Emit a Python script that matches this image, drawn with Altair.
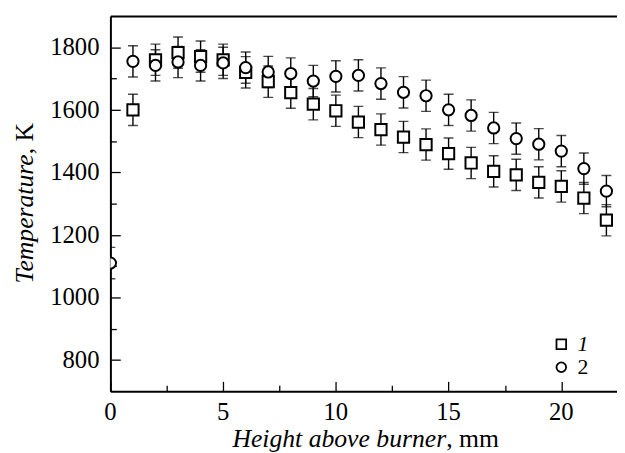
import altair as alt
import pandas as pd

# ---- data ----
height_1 = [1, 2, 3, 4, 5, 6, 7, 8, 9, 10, 11, 12, 13, 14, 15, 16, 17, 18, 19, 20, 21, 22]
temp_1 = [1600, 1760, 1783, 1770, 1760, 1720, 1690, 1655, 1618, 1597, 1561, 1537,
          1513, 1489, 1460, 1430, 1403, 1392, 1368, 1355, 1318, 1247]
err_1 = [50, 50, 50, 50, 50, 50, 50, 50, 50, 50, 50, 50, 50, 50, 50, 50, 50, 50, 50, 50, 50, 50]

height_2 = [0, 1, 2, 3, 4, 5, 6, 7, 8, 9, 10, 11, 12, 13, 14, 15, 16, 17, 18, 19, 20, 21, 22]
temp_2 = [1110, 1755, 1742, 1753, 1742, 1750, 1735, 1721, 1716, 1692, 1707, 1710,
          1684, 1656, 1645, 1600, 1582, 1542, 1508, 1490, 1468, 1412, 1340]
err_2 = [50, 50, 50, 50, 50, 50, 50, 50, 50, 50, 50, 50, 50, 50, 50, 50, 50, 50, 50, 50, 50, 50, 50]

series_labels = ["1", "2"]
series_shapes = ["square", "circle"]
series_styles = ["italic", "normal"]
x_major = [0, 5, 10, 15, 20]
x_minor = [2.5, 7.5, 12.5, 17.5]
y_major = [800, 1000, 1200, 1400, 1600, 1800]
y_minor = [900, 1100, 1300, 1500, 1700]
x_title_parts = ["Height above burner", ", mm"]
y_title_parts = ["Temperature", ", K"]

rows = []
for h, t, e in zip(height_1, temp_1, err_1):
    rows.append({"x": h, "t": t, "lo": t - e, "hi": t + e, "series": series_labels[0]})
for h, t, e in zip(height_2, temp_2, err_2):
    rows.append({"x": h, "t": t, "lo": t - e, "hi": t + e, "series": series_labels[1]})
df = pd.DataFrame(rows)

FONT = "Liberation Serif"
W, H = 513, 380

xs = alt.Scale(domain=[0, 22.47], nice=False, zero=False)
ys = alt.Scale(domain=[700, 1900], nice=False, zero=False)
shape_scale = alt.Scale(domain=series_labels, range=series_shapes)

common = dict(grid=False, title=None, domainColor="black", tickColor="black", labels=False)

x_main = alt.Axis(orient="bottom", ticks=False, domainWidth=2, **common)
y_main = alt.Axis(orient="left", ticks=False, domainWidth=2, **common)
x_major_ticks = alt.Axis(orient="bottom", values=x_major, offset=-10, tickSize=10, tickWidth=1.3,
                         domain=False, **common)
y_major_ticks = alt.Axis(orient="left", values=y_major, offset=-10, tickSize=10, tickWidth=1.3,
                         domain=False, **common)
x_minor_ticks = alt.Axis(orient="bottom", values=x_minor, offset=-6, tickSize=6, tickWidth=1.3,
                         domain=False, **common)
y_minor_ticks = alt.Axis(orient="left", values=y_minor, offset=-6, tickSize=6, tickWidth=1.3,
                         domain=False, **common)
x_top = alt.Axis(orient="top", ticks=False, domain=True, domainWidth=2, **common)

rules = alt.Chart(df).mark_rule(color="black", strokeWidth=1.4, clip=True).encode(
    x=alt.X("x:Q", scale=xs, axis=x_main),
    y=alt.Y("lo:Q", scale=ys, axis=y_main),
    y2="hi:Q",
)
caps_lo = alt.Chart(df).mark_tick(orient="horizontal", size=10, thickness=1.4, color="black",
                                  clip=True).encode(
    x=alt.X("x:Q", scale=xs, axis=x_major_ticks),
    y=alt.Y("lo:Q", scale=ys, axis=y_major_ticks),
)
caps_hi = alt.Chart(df).mark_tick(orient="horizontal", size=10, thickness=1.4, color="black",
                                  clip=True).encode(
    x=alt.X("x:Q", scale=xs, axis=x_top),
    y=alt.Y("hi:Q", scale=ys, axis=y_minor_ticks),
)
points = alt.Chart(df).mark_point(fill="white", stroke="black", strokeWidth=2,
                                  size=130, opacity=1, clip=True).encode(
    x=alt.X("x:Q", scale=xs, axis=x_minor_ticks),
    y=alt.Y("t:Q", scale=ys, axis=None),
    shape=alt.Shape("series:N", scale=shape_scale, legend=None),
)

# tick labels (positioned through the scales)
xlab = alt.Chart(pd.DataFrame({"v": x_major})).mark_text(
    font=FONT, fontSize=25, align="center", baseline="alphabetic", color="black"
).encode(x=alt.X("v:Q", scale=xs, axis=None), y=alt.value(H + 29.5), text=alt.Text("v:Q", format="d"))
ylab = alt.Chart(pd.DataFrame({"v": y_major})).mark_text(
    font=FONT, fontSize=25, align="right", baseline="middle", color="black"
).encode(x=alt.value(-11), y=alt.Y("v:Q", scale=ys, axis=None), text=alt.Text("v:Q", format="d"))

# legend
leg_df = pd.DataFrame({"series": series_labels, "style": series_styles})
leg_sym = [
    alt.Chart(leg_df.iloc[[i]]).mark_point(fill="white", stroke="black", strokeWidth=1.8,
                                            size=95, opacity=1).encode(
        x=alt.value(456.6), y=alt.value(332.4 + 23.3 * i),
        shape=alt.Shape("series:N", scale=shape_scale, legend=None))
    for i in range(2)
]
leg_txt = [
    alt.Chart(leg_df.iloc[[i]]).mark_text(font=FONT, fontSize=22, fontStyle=series_styles[i],
                                          align="left", baseline="middle", color="black").encode(
        x=alt.value(473), y=alt.value(332.4 + 23.3 * i), text="series:N")
    for i in range(2)
]

xt1 = alt.Chart(pd.DataFrame({"s": [x_title_parts[0]]})).mark_text(
    font=FONT, fontSize=26, fontStyle="italic", align="right", baseline="alphabetic", color="black"
).encode(text="s:N", x=alt.value(340), y=alt.value(436))
xt2 = alt.Chart(pd.DataFrame({"s": [x_title_parts[1]]})).mark_text(
    font=FONT, fontSize=26, fontStyle="normal", align="left", baseline="alphabetic", color="black"
).encode(text="s:N", x=alt.value(340), y=alt.value(436))
yt1 = alt.Chart(pd.DataFrame({"s": [y_title_parts[0]]})).mark_text(
    font=FONT, fontSize=26, fontStyle="italic", align="right", baseline="alphabetic", angle=270,
    color="black"
).encode(text="s:N", x=alt.value(-78), y=alt.value(140))
yt2 = alt.Chart(pd.DataFrame({"s": [y_title_parts[1]]})).mark_text(
    font=FONT, fontSize=26, fontStyle="normal", align="left", baseline="alphabetic", angle=270,
    color="black"
).encode(text="s:N", x=alt.value(-78), y=alt.value(140))

chart = alt.layer(rules, caps_lo, caps_hi, points, xlab, ylab, *leg_sym, *leg_txt,
                  xt1, xt2, yt1, yt2).resolve_axis(
    x="independent", y="independent"
).properties(
    width=W, height=H,
    autosize=alt.AutoSizeParams(type="none"),
    padding={"left": 103.7, "top": 5.3, "right": 0, "bottom": 60},
).configure_view(stroke=None).configure(background="white")

chart.save("out.html", embed_options={"renderer": "svg", "actions": False})
